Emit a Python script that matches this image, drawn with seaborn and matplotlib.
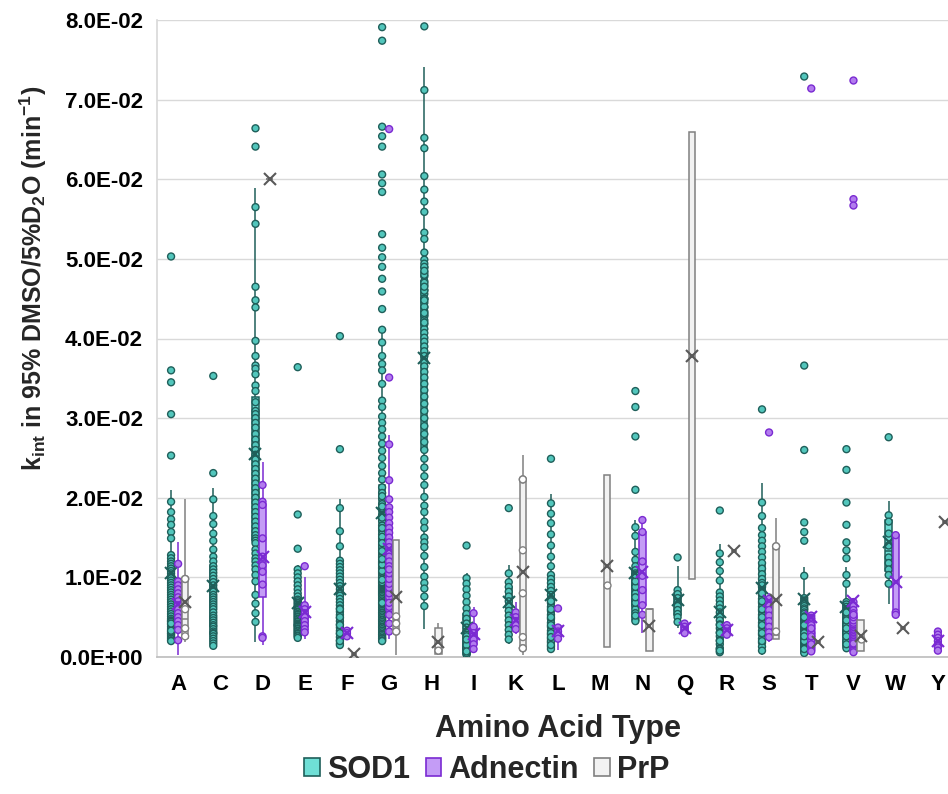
"""
Intrinsic exchange rates (k_int) in 95% DMSO / 5% D2O per amino acid type,
box plot with every point shown, for SOD1, Adnectin and PrP.
Values read off the published Excel figure, in units of 1e-3 min^-1.
"""

import numpy as np
import pandas as pd
import matplotlib
matplotlib.use('Agg')
import matplotlib.pyplot as plt
from matplotlib.cbook import boxplot_stats
from matplotlib.patches import Patch
from matplotlib.ticker import FuncFormatter, MultipleLocator
import seaborn as sns

amino_acids = ['A', 'C', 'D', 'E', 'F', 'G', 'H', 'I', 'K', 'L',
               'M', 'N', 'Q', 'R', 'S', 'T', 'V', 'W', 'Y']
proteins = ['SOD1', 'Adnectin', 'PrP']

# ---- SOD1 (x 1e-3 min^-1)
sod1_A = [50.3, 36.0, 34.5, 30.5, 25.3, 21.0, 19.5, 18.2, 17.3, 16.6, 15.7, 14.9,
          12.8, 12.4, 12.0, 11.7, 11.4, 11.1, 10.8, 10.5, 10.2, 9.9, 9.6, 9.3, 9.0, 8.7, 8.4,
          8.1, 7.8, 7.5, 7.2, 6.9, 6.6, 6.3, 6.0, 5.7, 5.4, 5.1, 4.8, 4.6,
          4.5, 4.4, 4.1, 3.8, 3.5, 3.2, 3.0, 2.9, 2.7, 2.5, 2.3, 2.1, 2.0, 1.9, 3.3, 4.2]
sod1_C = [35.3, 23.1, 21.2, 19.8, 17.7, 16.7, 15.5, 14.6, 13.5, 12.6, 12.0,
          11.4, 11.0, 10.6, 10.2, 9.8, 9.4, 9.0, 8.6, 8.2, 7.8, 7.5, 7.2, 6.9, 6.6, 6.3, 6.0,
          5.6, 5.2, 4.9, 4.6, 4.3, 4.0,
          3.8, 3.5, 3.2, 3.0, 2.9, 2.6, 2.3, 2.0, 1.7, 1.4, 1.1]
sod1_D = [66.4, 64.1, 58.9, 56.5, 54.4, 46.5, 44.8, 43.9, 39.7, 37.8, 36.6, 36.2, 35.5, 34.1,
          33.4, 32.0, 30.9, 30.5, 30.0, 29.4, 28.8, 28.0, 27.3, 26.6, 26.0, 25.4, 24.8, 24.2,
          23.6, 23.0, 22.4, 21.8, 21.2, 20.6, 20.0, 19.4, 18.8, 18.2, 17.6, 17.0, 16.4, 15.8,
          15.3, 14.9, 14.6, 14.3, 13.5, 13.0, 12.4, 12.0, 11.5, 11.0, 10.3, 9.5, 7.8, 6.7,
          5.5, 4.4, 1.9]
sod1_E = [36.4, 17.9, 13.6, 11.5, 11.0, 10.5, 10.0, 9.5, 9.0, 8.5, 8.0, 7.6, 7.2, 7.0, 6.8,
          6.6, 6.4, 6.2, 6.0, 5.9, 5.7, 5.6, 5.4, 5.3, 5.1, 5.0, 4.8, 4.7, 4.5, 4.4, 4.2, 4.1,
          4.0, 3.9, 3.8, 3.6, 3.5, 3.3, 3.2, 3.0, 2.9, 2.7, 2.6, 2.4, 2.1]
sod1_F = [40.3, 26.1, 19.9, 18.7, 15.8, 13.9, 12.1, 11.7, 11.3, 10.9, 10.5, 10.1, 9.7, 9.3,
          8.9, 8.5, 8.1, 7.7, 7.3, 6.9, 6.5, 6.1, 5.7, 5.3, 4.9, 4.5, 4.1, 3.7, 3.3, 2.9, 2.5,
          2.1, 1.7, 1.3, 1.5, 2.0, 3.0, 4.0, 5.0, 6.0]
sod1_G = [79.1, 77.4, 66.6, 65.4, 64.1, 60.6, 59.5, 58.4, 53.1, 51.4, 50.2, 49.0, 47.5, 45.9,
          43.7, 41.3, 41.1, 39.5, 37.8, 36.8, 36.0, 34.3, 32.2, 31.4, 30.2, 29.4, 28.6, 27.7,
          26.8, 25.9, 25.0, 24.0, 23.1, 22.3,
          21.3, 20.6, 19.9, 19.2, 18.5, 17.8, 17.1, 16.5, 15.9, 15.4, 14.9, 14.5, 14.1, 13.7,
          13.4, 13.1, 12.8, 12.5, 12.2, 11.9, 11.7, 11.5, 11.3, 11.1, 10.9, 10.7, 10.5, 10.3,
          10.1, 9.9, 9.8, 9.6, 9.5, 9.3, 9.2, 9.0, 8.9, 8.8, 8.7, 8.6, 8.5, 8.4, 8.3, 8.2, 8.1,
          8.0, 7.9, 7.8, 7.7, 12.0, 11.2, 10.0, 9.4, 13.9, 15.1, 16.2, 17.5, 18.9, 20.2, 12.6,
          11.8, 10.6, 9.7, 10.8, 11.6, 12.3, 13.3, 14.3,
          7.5, 7.3, 7.1, 6.9, 6.7, 6.6, 6.4, 6.2, 6.0, 5.8, 5.6, 5.5, 5.3, 5.1, 4.9, 4.7, 4.6,
          4.4, 4.2, 4.0, 3.8, 3.7, 3.5, 3.3, 3.1, 2.9, 2.8, 2.6, 2.4, 2.3, 2.1, 2.0, 1.9, 6.8]
sod1_H = [79.2, 74.1, 71.2, 65.2, 63.9, 60.4, 58.7, 57.2, 55.9, 53.3, 52.5, 50.8, 49.9,
          49.4, 48.9, 48.3, 47.8, 47.2, 46.7, 46.1, 45.6, 45.0, 44.5, 43.9, 43.4, 42.8, 42.3,
          41.8, 41.2, 40.7, 40.1, 39.6, 39.0, 38.4, 37.8, 37.1, 36.5, 35.8, 35.1, 34.3, 33.5,
          32.7, 31.8, 30.9, 30.0, 29.0, 28.0, 27.0, 26.0, 24.9, 23.8, 22.7, 21.6,
          49.0, 48.0, 47.0, 46.0, 45.0, 44.0, 43.0, 42.0, 48.5, 46.5, 44.8, 43.2,
          20.1, 19.0, 18.2, 17.0, 16.2, 15.0, 14.4, 13.8, 12.7, 11.3, 10.1, 9.3, 8.6, 7.6,
          6.4, 3.5]
sod1_I = [14.0, 10.6, 9.9, 9.2, 8.5, 7.7, 6.9, 6.1, 5.4, 4.8, 4.2, 3.7, 3.2, 2.8, 2.4, 2.0,
          1.6, 1.2, 0.8, 0.4, 0.2, 1.0, 1.8, 2.6, 0.6, 0.3, 0.5, 0.9, 1.1, 1.4, 1.5, 2.2, 0.7]
sod1_K = [18.7, 11.5, 10.5, 9.4, 8.8, 8.2, 7.6, 7.0, 6.4, 5.8, 5.2, 4.6, 4.0, 3.4, 2.8, 2.2, 1.6]
sod1_L = [24.9, 20.5, 19.3, 18.0, 16.8, 15.4, 14.0, 12.6, 11.4, 10.3, 9.8, 9.3, 8.8, 8.3, 7.8,
          7.3, 6.8, 6.3, 5.8, 5.3, 4.8, 4.3, 3.8, 3.3, 2.8, 2.3, 1.8, 1.3, 0.9, 4.0, 5.0, 6.0,
          7.0, 1.0, 2.0, 3.0, 1.5, 2.5]
sod1_N = [33.4, 31.4, 27.7, 21.0, 17.2, 16.3, 15.2, 13.2, 12.2, 11.4, 10.9, 10.5, 10.1, 9.7,
          9.3, 8.9, 8.5, 8.1, 7.7, 7.2, 6.7, 6.2, 5.7, 5.2, 4.7, 4.2, 9.0, 8.0, 7.0, 6.5, 6.0,
          5.5, 5.0, 8.8, 9.5, 10.3, 4.5, 5.2, 6.8, 7.5]
sod1_Q = [12.5, 11.4, 8.4, 7.9, 7.4, 6.9, 6.4, 5.9, 5.4, 5.0, 4.4, 3.6]
sod1_R = [18.4, 14.2, 13.0, 11.9, 10.8, 9.6, 8.1, 7.6, 7.1, 6.6, 6.1, 5.6, 5.1, 4.6, 4.1, 3.6,
          3.1, 2.6, 2.1, 1.6, 1.1, 0.6, 0.3, 1.0, 2.0, 3.0, 4.0, 0.8]
sod1_S = [31.1, 21.8, 19.4, 17.7, 16.2, 15.3, 14.6, 13.9, 13.2, 12.5, 11.8, 11.1, 10.4, 9.8,
          9.3, 8.8, 8.3, 7.8, 7.3, 6.8, 6.3, 5.8, 5.3, 4.8, 4.3, 3.8, 3.3, 2.8, 2.3, 1.8, 1.3,
          0.8, 0.3, 5.0, 6.0, 7.0, 4.0, 3.0, 2.0, 8.0, 9.0]
sod1_T = [72.9, 36.6, 26.0, 16.9, 15.7, 14.6, 11.3, 10.2,
          7.4, 7.1, 6.9, 6.6, 6.4, 6.1, 5.9, 5.6, 5.4, 5.1, 4.9, 4.7, 4.5, 4.3, 4.1, 3.9, 3.7,
          3.5, 3.3, 3.1, 2.9, 2.7, 2.5, 2.3, 2.1, 1.9, 1.7, 1.5, 1.3, 1.1, 0.9, 0.7, 0.5, 0.3,
          3.0, 2.0, 4.0, 1.0, 5.0, 2.6]
sod1_V = [26.1, 23.5, 19.4, 16.6, 14.4, 13.4, 12.4, 11.3, 10.3, 9.2,
          6.9, 6.6, 6.3, 6.0, 5.8, 5.5, 5.3, 5.0, 4.8, 4.5, 4.3, 4.1, 3.9, 3.7, 3.5, 3.3, 3.1,
          2.9, 2.7, 2.5, 2.3, 2.1, 1.9, 1.7, 1.5, 1.3, 1.1, 0.9, 3.0, 4.0, 2.0, 5.6, 4.6, 3.6,
          2.6, 1.6]
sod1_W = [27.6, 19.6, 17.8, 17.0, 15.5, 14.0, 12.5, 11.8, 11.0, 10.3, 9.2, 6.7]

# ---- Adnectin
adn_A = [14.5, 11.7, 9.5, 9.0, 8.5, 8.0, 7.5, 7.0, 6.5, 6.0, 5.5, 5.0, 4.5, 4.0, 3.4, 2.1, 0.3]
adn_D = [24.5, 21.6, 19.5, 19.1, 14.9, 12.6, 11.5, 10.7, 9.1, 2.6, 2.4, 1.5]
adn_E = [11.4, 10.0, 6.5, 6.0, 5.5, 5.0, 4.5, 4.0, 3.5, 3.1, 2.2]
adn_F = [3.7, 3.3, 3.0, 2.6, 2.2]
adn_G = [66.3, 35.1, 27.9, 26.7, 22.2, 19.8, 18.8, 18.2, 17.5, 16.8, 16.2, 15.6, 15.0, 14.4,
         13.8, 13.2, 12.6, 12.0, 11.4, 10.8, 10.2, 9.6, 9.0, 8.4, 7.8, 7.2, 6.6, 6.0, 5.3, 4.2,
         3.2, 2.3, 6.3, 7.0, 7.5, 8.0, 8.7, 9.2, 9.8, 10.5, 11.0, 6.8]
adn_I = [6.3, 5.5, 3.8, 3.0, 2.6, 2.2, 1.6, 1.0, 0.5]
adn_K = [6.9, 5.6, 5.0, 4.5, 4.0, 3.5, 2.9]
adn_L = [6.1, 4.2, 3.7, 3.2, 2.8, 2.3, 0.9]
adn_N = [17.7, 17.2, 15.7, 12.0, 10.2, 8.4, 6.5, 5.3, 3.0]
adn_Q = [4.6, 4.2, 3.8, 3.4, 3.0, 2.8]
adn_R = [4.4, 4.0, 3.6, 3.2, 2.8, 2.5]
adn_S = [28.2, 8.0, 7.3, 6.6, 5.9, 5.2, 4.5, 3.8, 3.1, 2.5, 1.9]
adn_T = [71.4, 5.5, 5.2, 4.9, 4.7, 4.4, 4.2, 3.9, 3.7, 3.5, 3.3, 3.1, 2.9, 2.7, 2.5, 2.3, 2.1,
         1.9, 1.7, 1.5, 1.3, 1.1, 0.9, 0.7, 0.6, 3.0, 2.0, 4.0, 2.6, 1.6, 3.6]
adn_V = [72.4, 57.5, 56.7, 7.4, 6.9, 6.4, 5.9, 5.5, 5.1, 4.8, 4.5, 4.2, 4.0, 3.8, 3.6, 3.4,
         3.2, 3.0, 2.8, 2.6, 2.4, 2.2, 2.0, 1.8, 1.6, 1.4, 1.2, 1.0, 0.8, 0.6, 0.5, 3.9, 3.7,
         3.5, 3.3, 3.1, 2.9, 2.7, 2.5, 2.3, 2.1, 4.1, 4.3, 4.6, 5.0, 5.3, 1.9, 1.7]
adn_W = [15.4, 15.3, 5.6, 5.3, 5.2]
adn_Y = [3.6, 3.2, 2.8, 2.4, 2.0, 1.6, 1.2, 0.8, 0.5]

# ---- PrP
prp_A = [19.9, 9.8, 9.8, 6.0, 3.6, 2.6, 1.9, 1.9]
prp_D = [60.0]
prp_F = [0.4]
prp_G = [14.7, 14.7, 14.7, 5.1, 4.2, 3.2, 3.2, 0.3]
prp_H = [4.3, 4.3, 1.5, 0.8, 0.3, 0.3]
prp_K = [25.4, 22.3, 22.3, 13.4, 8.0, 2.5, 1.1, 1.1, 0.2]
prp_M = [22.8, 22.8, 9.0, 1.3, 1.3]
prp_N = [6.0, 6.0, 6.0, 0.7, 0.7]
prp_Q = [65.9, 65.9, 9.8, 9.8]
prp_R = [13.3]
prp_S = [17.4, 13.9, 13.9, 3.2, 2.3, 2.3, 2.3, 2.3]
prp_T = [1.9]
prp_V = [4.6, 4.6, 2.2, 0.8, 0.8]
prp_W = [3.7]
prp_Y = [16.9]

sod1 = {'A': sod1_A, 'C': sod1_C, 'D': sod1_D, 'E': sod1_E, 'F': sod1_F, 'G': sod1_G,
        'H': sod1_H, 'I': sod1_I, 'K': sod1_K, 'L': sod1_L, 'N': sod1_N, 'Q': sod1_Q,
        'R': sod1_R, 'S': sod1_S, 'T': sod1_T, 'V': sod1_V, 'W': sod1_W}
adnectin = {'A': adn_A, 'D': adn_D, 'E': adn_E, 'F': adn_F, 'G': adn_G, 'I': adn_I,
            'K': adn_K, 'L': adn_L, 'N': adn_N, 'Q': adn_Q, 'R': adn_R, 'S': adn_S,
            'T': adn_T, 'V': adn_V, 'W': adn_W, 'Y': adn_Y}
prp = {'A': prp_A, 'D': prp_D, 'F': prp_F, 'G': prp_G, 'H': prp_H, 'K': prp_K, 'M': prp_M,
       'N': prp_N, 'Q': prp_Q, 'R': prp_R, 'S': prp_S, 'T': prp_T, 'V': prp_V, 'W': prp_W,
       'Y': prp_Y}

box_fill = {'SOD1': '#6FDFD6', 'Adnectin': '#C49CF6', 'PrP': '#F2F2F2'}
point_fill = {'SOD1': '#52C6BC', 'Adnectin': '#B27CEE', 'PrP': '#FFFFFF'}
edge = {'SOD1': '#1F5F5A', 'Adnectin': '#7A2AD2', 'PrP': '#808080'}
mean_col = {'SOD1': '#1F5F5A', 'Adnectin': '#7A2AD2', 'PrP': '#595959'}

# long tables: all values (for the boxes) and the drawn points
# (Excel does not draw a marker at the whisker ends, so those are dropped)
rows, pts = [], []
for prot, groups in zip(proteins, [sod1, adnectin, prp]):
    for aa, vals in groups.items():
        v = np.array(vals) * 1e-3
        st = boxplot_stats(v)[0]
        for x in v:
            rows.append((prot, aa, x))
            if x != st['whislo'] and x != st['whishi']:
                pts.append((prot, aa, x))
df = pd.DataFrame(rows, columns=['protein', 'aa', 'k'])
df_pts = pd.DataFrame(pts, columns=['protein', 'aa', 'k'])

sns.set_theme(style='white')
plt.rcParams['font.family'] = ['Liberation Sans', 'DejaVu Sans']
plt.rcParams['font.weight'] = 'bold'
plt.rcParams['mathtext.fontset'] = 'custom'
plt.rcParams['mathtext.rm'] = 'Liberation Sans:bold'
plt.rcParams['mathtext.bf'] = 'Liberation Sans:bold'
plt.rcParams['mathtext.it'] = 'Liberation Sans:bold'

W, H = 948, 794
fig = plt.figure(figsize=(W / 100, H / 100), dpi=100)
# plot area runs past the right edge, as in the cropped original
ax = fig.add_axes([157 / W, (H - 657) / H, 802 / W, 637 / H])

# draw series one after another (box, points, mean) like Excel stacks them
for i, prot in enumerate(proteins):
    z = 2 + 3 * i
    sub = df[df.protein == prot]
    sns.boxplot(data=sub, x='aa', y='k', hue='protein', order=amino_acids, hue_order=proteins,
                palette=box_fill, saturation=1, dodge=True, width=0.5, gap=0.1,
                linecolor=edge[prot], linewidth=1.1, showfliers=False, showcaps=False,
                showmeans=True, zorder=z,
                meanprops=dict(marker='x', markeredgecolor=mean_col[prot], markersize=9,
                               markeredgewidth=1.5, zorder=z + 2),
                legend=False, ax=ax)

    before = list(ax.collections)
    sub_pts = df_pts[df_pts.protein == prot]
    sns.stripplot(data=sub_pts, x='aa', y='k', hue='protein', order=amino_acids,
                  hue_order=proteins, palette=point_fill, dodge=True, jitter=False,
                  size=5.0, linewidth=1.0, edgecolor=edge[prot], legend=False,
                  zorder=z + 1, ax=ax)
    # stripplot dodges over 0.8 of the slot, the boxes over 0.5: pull points onto the boxes
    for coll in ax.collections:
        if coll in before:
            continue
        off = coll.get_offsets()
        if len(off) == 0:
            continue
        off = np.array(off)
        c = np.round(off[:, 0])
        off[:, 0] = c + (off[:, 0] - c) * 0.625
        coll.set_offsets(off)

ax.set_xlim(-0.5, 18.5)
ax.set_ylim(0, 0.08)
ax.yaxis.set_major_locator(MultipleLocator(0.01))
ax.yaxis.set_major_formatter(FuncFormatter(lambda v, p: f'{v:.1E}'))
ax.grid(axis='y', color='#D9D9D9', linewidth=1.0)
ax.grid(axis='x', visible=False)
ax.set_axisbelow(True)
for s in ['top', 'right']:
    ax.spines[s].set_visible(False)
ax.spines['left'].set_color('#D9D9D9')
ax.spines['bottom'].set_color('#BFBFBF')
ax.tick_params(axis='both', length=0, labelsize=16, colors='black')
ax.tick_params(axis='y', pad=10)
ax.tick_params(axis='x', pad=12)
for lab in ax.get_xticklabels() + ax.get_yticklabels():
    lab.set_fontweight('bold')

ax.set_xlabel('Amino Acid Type', fontsize=22, fontweight='bold', labelpad=14)
ax.set_ylabel('')
fig.text(33 / W, 1 - 278 / H,
         r'$\mathbf{k_{int}}$ in 95% DMSO/5%D$\mathbf{_2}$O (min$\mathbf{^{-1}}$)',
         rotation=90, ha='center', va='center', fontsize=18, fontweight='bold')

handles = [Patch(facecolor=box_fill[p], edgecolor=edge[p], linewidth=1.2) for p in proteins]
fig.legend(handles, proteins, loc='center', bbox_to_anchor=(487 / W, 1 - 770 / H), ncol=3,
           frameon=False, prop=dict(size=22, weight='bold'), handlelength=0.5,
           handleheight=0.5, handletextpad=0.25, columnspacing=0.5)

fig.savefig('out.png', dpi=100)
